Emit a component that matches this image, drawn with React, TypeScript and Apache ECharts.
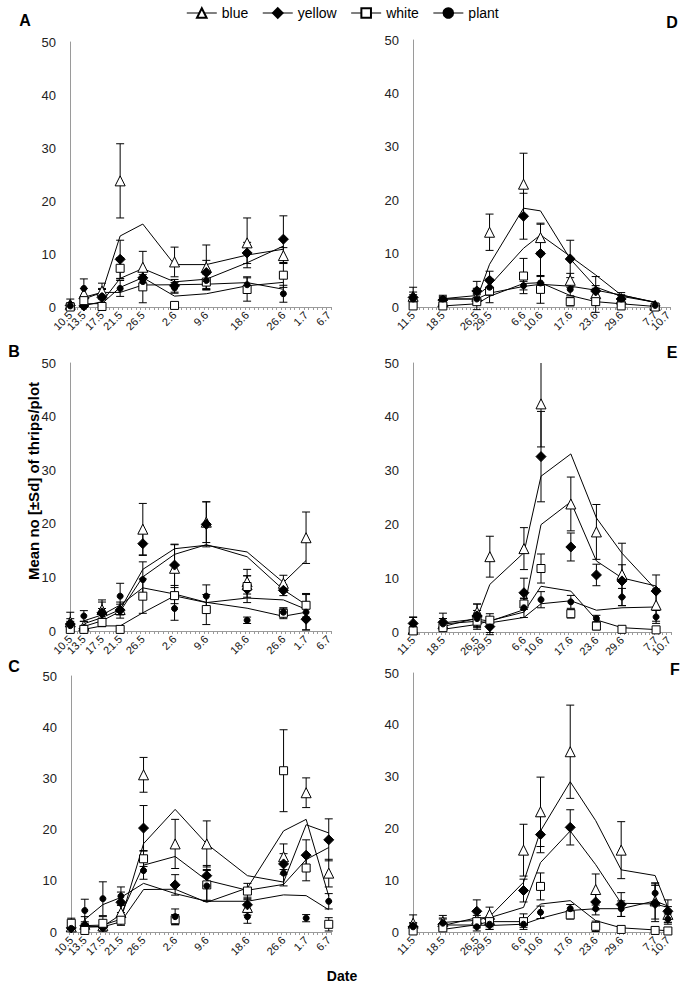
import React, { useEffect, useRef } from "react";
import * as echarts from "echarts";

// ---- x categories (dates) and their day offsets ----
const LEFT_DATES = ["10.5", "13.5", "17.5", "21.5", "26.5", "2.6", "9.6", "18.6", "26.6", "1.7", "6.7"];
const LEFT_DAYS = [0, 3, 7, 11, 16, 23, 30, 39, 47, 52, 57];
const RIGHT_DATES = ["11.5", "18.5", "26.5", "29.5", "6.6", "10.6", "17.6", "23.6", "29.6", "7.7", "10.7"];
const RIGHT_DAYS = [0, 7, 15, 18, 26, 30, 37, 43, 49, 57, 60];
const Y_TICKS = [0, 10, 20, 30, 40, 50];

// ---- Panel A ----
const A_BLUE = [0.5, 2.5, 3, 23.8, 7.5, 8.5, 7.5, 12.1, 9.7];
const A_BLUE_SD = [1, 1, 1.5, 7, 3, 2.8, 4.2, 4.7, 1.5];
const A_YELLOW = [0.3, 0.2, 1.8, 9, 5.5, 4, 6.5, 10.2, 12.8];
const A_YELLOW_SD = [0.5, 0.3, 1.5, 3.6, 1.5, 1.2, 2.3, 2, 4.4];
const A_WHITE = [0, 1.2, 0.1, 7.3, 3.8, 0.3, 4.7, 3.3, 6];
const A_WHITE_SD = [0.3, 0.5, 0.1, 2, 3, 0.2, 1.5, 2.2, 2.3];
const A_PLANT = [0.2, 3.5, 2, 3.5, 4.8, 3.6, 5, 4.2, 2.5];
const A_PLANT_SD = [0.3, 1.8, 1.5, 1.5, 1.3, 1, 1.5, 1.5, 1.6];

// ---- Panel B ----
const B_BLUE = [1.7, 1, 4, 4, 19, 11.7, 20.3, 9.2, 8.9, 17.4];
const B_BLUE_SD = [1.8, 0.8, 1.8, 1, 4.8, 4.5, 3.8, 2.3, 1.5, 4.8];
const B_YELLOW = [1.3, 0.4, 3.4, 3.9, 16.3, 12.3, 19.9, 7.8, 7.6, 2.2];
const B_YELLOW_SD = [1, 0.5, 2, 1.5, 2.2, 3.8, 4.2, 2.5, 1, 2];
const B_WHITE = [0.3, 0.3, 1.6, 0.3, 6.5, 6.6, 4, 8.3, 3.3, 4.8];
const B_WHITE_SD = [0.3, 0.2, 0.8, 0.2, 3.2, 1.5, 2.8, 2, 1, 2.2];
const B_PLANT = [1, 2.8, 3.2, 6.5, 9.6, 4.2, 6.5, 2, 3.5, 3.5];
const B_PLANT_SD = [0.8, 1, 1, 2.4, 3.3, 2.2, 2.1, 0.6, 0.8, 3.3];

// ---- Panel C ----
const C_BLUE = [1, 1.5, 1.2, 3.8, 30.7, 17.2, 17.2, 4.8, 14.7, 27.2, 11.5];
const C_BLUE_SD = [0.8, 1.5, 1, 1.5, 3.4, 4.8, 4.5, 1.5, 2.5, 2.9, 2.7];
const C_YELLOW = [0.8, 1.2, 1, 5.8, 20.3, 9.2, 11, 5.3, 13.3, 15, 18];
const C_YELLOW_SD = [0.5, 0.5, 0.8, 2, 4.4, 2, 2, 1.5, 2, 3, 4.1];
const C_WHITE = [1.7, 0.3, 1.7, 2.3, 14.3, 2.4, 9.2, 8, 31.5, 12.5, 1.5];
const C_WHITE_SD = [1, 0.3, 1.3, 1, 1.5, 1, 3, 1.5, 8, 2.5, 1.3];
const C_PLANT = [0.7, 4.2, 6.5, 7, 12, 3, 9, 3, 11.5, 2.7, 6];
const C_PLANT_SD = [0.5, 2.2, 3.3, 1.8, 1.7, 1.5, 3, 1.3, 2.5, 0.7, 1.5];

// ---- Panel D ----
const D_BLUE = [2, 1, 2, 14, 23, 13, 5, 2.5, 1.5, 0.3];
const D_BLUE_SD = [1.7, 0.8, 1.5, 3.4, 5.8, 2.7, 1.3, 1, 0.8, 0.3];
const D_YELLOW = [1.8, 1.3, 3, 5, 17, 10, 9, 3, 1.5, 0.2];
const D_YELLOW_SD = [1, 0.7, 1.8, 1.7, 4.3, 5.5, 3.5, 2.7, 1.2, 0.3];
const D_WHITE = [0.2, 0.2, 1, 3, 5.8, 3.3, 1, 1, 0.2, 0];
const D_WHITE_SD = [0.2, 0.2, 1.5, 2.2, 3.3, 2.6, 0.8, 2, 0.2, 0.1];
const D_PLANT = [1.5, 1.5, 1.5, 3.7, 4, 4.5, 3.3, 3, 1.5, 0.3];
const D_PLANT_SD = [0.8, 0.7, 0.8, 1.5, 0.8, 1.2, 1.2, 1, 0.6, 0.3];

// ---- Panel E ----
const E_BLUE = [0.5, 1.5, 3.7, 14, 15.5, 42.4, 23.8, 18.6, 10.7, 5];
const E_BLUE_SD = [0.5, 1, 1.5, 3.8, 3.9, 8, 5, 5.1, 5.8, 3];
const E_YELLOW = [1.6, 1.8, 3, 1, 7.3, 32.6, 15.8, 10.6, 9.5, 7.6];
const E_YELLOW_SD = [1.2, 1.7, 2.2, 1.5, 2.7, 8.4, 2.6, 2, 3, 3];
const E_WHITE = [0.2, 0.8, 2, 2.2, 5.2, 11.8, 3.4, 1.1, 0.5, 0.4];
const E_WHITE_SD = [0.2, 0.6, 1.5, 1.2, 1, 2.7, 0.8, 0.7, 0.3, 0.3];
const E_PLANT = [1.5, 1.5, 2.5, 0.9, 4.5, 6, 5.6, 2.5, 6.5, 2.8];
const E_PLANT_SD = [1.2, 1, 1.5, 1, 1.8, 1.5, 1.2, 0.6, 1.6, 1.2];

// ---- Panel F ----
const F_BLUE = [1.7, 2, 2.5, 3.4, 15.8, 23.2, 34.8, 8.2, 15.8, 6, 3.4];
const F_BLUE_SD = [1.6, 1.2, 1.5, 1.4, 5, 6.7, 9, 3, 5.5, 3.5, 1.5];
const F_YELLOW = [1, 1.5, 4, 1.5, 8, 18.8, 20.2, 5.8, 5.3, 5.5, 4];
const F_YELLOW_SD = [0.8, 1, 2.2, 1, 2.2, 3.5, 3.4, 1.5, 2.3, 3.5, 2.2];
const F_WHITE = [0.2, 0.8, 2, 2, 2, 8.8, 3.3, 1.1, 0.5, 0.3, 0.2];
const F_WHITE_SD = [0.2, 0.5, 1.2, 1, 1.5, 2.6, 0.8, 1, 0.2, 0.2, 0.2];
const F_PLANT = [1, 1.7, 1, 1.5, 1.5, 3.8, 4.5, 4.5, 4.5, 7.5, 2.5];
const F_PLANT_SD = [0.7, 1, 0.8, 1, 0.6, 1.2, 0.8, 1.2, 1.5, 1.8, 1];

const TREATMENTS = [
  { name: "blue", symbol: "triangle", size: 10, fill: "#ffffff" },
  { name: "yellow", symbol: "diamond", size: 10, fill: "#000000" },
  { name: "white", symbol: "rect", size: 8, fill: "#ffffff" },
  { name: "plant", symbol: "circle", size: 6, fill: "#000000" },
];

const PANELS = [
  { label: "A", side: "L", grid: { left: 68, top: 42, width: 263, height: 265 }, lab: [25, 20],
    vals: [A_BLUE, A_YELLOW, A_WHITE, A_PLANT], sds: [A_BLUE_SD, A_YELLOW_SD, A_WHITE_SD, A_PLANT_SD] },
  { label: "B", side: "L", grid: { left: 68, top: 363, width: 263, height: 268 }, lab: [14, 351],
    vals: [B_BLUE, B_YELLOW, B_WHITE, B_PLANT], sds: [B_BLUE_SD, B_YELLOW_SD, B_WHITE_SD, B_PLANT_SD] },
  { label: "C", side: "L", grid: { left: 69, top: 676, width: 262, height: 256 }, lab: [14, 666],
    vals: [C_BLUE, C_YELLOW, C_WHITE, C_PLANT], sds: [C_BLUE_SD, C_YELLOW_SD, C_WHITE_SD, C_PLANT_SD] },
  { label: "D", side: "R", grid: { left: 411, top: 40, width: 259, height: 267 }, lab: [672, 22],
    vals: [D_BLUE, D_YELLOW, D_WHITE, D_PLANT], sds: [D_BLUE_SD, D_YELLOW_SD, D_WHITE_SD, D_PLANT_SD] },
  { label: "E", side: "R", grid: { left: 411, top: 363, width: 260, height: 269 }, lab: [672, 352],
    vals: [E_BLUE, E_YELLOW, E_WHITE, E_PLANT], sds: [E_BLUE_SD, E_YELLOW_SD, E_WHITE_SD, E_PLANT_SD] },
  { label: "F", side: "R", grid: { left: 411, top: 673, width: 259, height: 259 }, lab: [675, 669],
    vals: [F_BLUE, F_YELLOW, F_WHITE, F_PLANT], sds: [F_BLUE_SD, F_YELLOW_SD, F_WHITE_SD, F_PLANT_SD] },
];

const FONT = "Liberation Sans, Arial, sans-serif";
const AXIS_GREY = "#9a9a9a";

function movingAvg(days: number[], vals: number[]) {
  return vals.slice(1).map((v, i) => [days[i + 1], (vals[i] + v) / 2]);
}

function buildOption() {
  const grid: any[] = [];
  const xAxis: any[] = [];
  const yAxis: any[] = [];
  const series: any[] = [];
  const graphic: any[] = [];

  PANELS.forEach((p, pi) => {
    const days = p.side === "L" ? LEFT_DAYS : RIGHT_DAYS;
    const dates = p.side === "L" ? LEFT_DATES : RIGHT_DATES;
    const xMax = p.side === "L" ? 57.5 : 60.5;
    const tickVals: number[] = [];
    for (let t = -0.5; t <= xMax + 1e-6; t += 1) tickVals.push(t);
    const fmt = (v: number) => {
      const k = days.indexOf(Math.round(v));
      return k >= 0 ? dates[k] : "";
    };
    const labelBase = {
      rotate: 45,
      fontSize: 11,
      fontFamily: FONT,
      color: "#111",
      margin: 6,
      showMinLabel: true,
      showMaxLabel: true,
      hideOverlap: false,
      formatter: fmt,
    };

    grid.push({ ...p.grid });
    // main x axis: line, daily ticks, labels of even-indexed dates
    xAxis.push({
      type: "value",
      gridIndex: pi,
      position: "bottom",
      min: -0.5,
      max: xMax,
      axisLine: { show: true, onZero: false, lineStyle: { color: AXIS_GREY, width: 1 } },
      axisTick: { show: true, customValues: tickVals, length: 3, lineStyle: { color: AXIS_GREY } },
      axisLabel: { ...labelBase, customValues: days.filter((_, i) => i % 2 === 0) },
      splitLine: { show: false },
    });
    // companion x axis: labels of odd-indexed dates only
    xAxis.push({
      type: "value",
      gridIndex: pi,
      position: "bottom",
      offset: 0,
      min: -0.5,
      max: xMax,
      axisLine: { show: false, onZero: false },
      axisTick: { show: false },
      axisLabel: { ...labelBase, customValues: days.filter((_, i) => i % 2 === 1) },
      splitLine: { show: false },
    });
    yAxis.push({
      type: "value",
      gridIndex: pi,
      min: Y_TICKS[0],
      max: Y_TICKS[Y_TICKS.length - 1],
      interval: 10,
      axisLine: { show: true, lineStyle: { color: AXIS_GREY, width: 1 } },
      axisTick: { show: false },
      axisLabel: { fontSize: 13, fontFamily: FONT, color: "#222", margin: 12 },
      splitLine: { show: false },
    });

    const xi = pi * 2;
    TREATMENTS.forEach((tr, ti) => {
      const vals = p.vals[ti];
      const sds = p.sds[ti];
      // error bars
      series.push({
        type: "custom",
        xAxisIndex: xi,
        yAxisIndex: pi,
        silent: true,
        clip: false,
        z: 2,
        data: vals.map((v, i) => [days[i], v - sds[i], v + sds[i]]),
        renderItem: (params: any, api: any) => {
          const x = api.value(0);
          const lo = api.value(1);
          const hi = api.value(2);
          const top = Math.min(hi, 50);
          const pHi = api.coord([x, top]);
          const pLo = api.coord([x, lo]);
          const w = 4;
          const st = { stroke: "#000", lineWidth: 1 };
          const children: any[] = [
            { type: "line", shape: { x1: pHi[0], y1: pHi[1], x2: pLo[0], y2: pLo[1] }, style: st },
            { type: "line", shape: { x1: pLo[0] - w, y1: pLo[1], x2: pLo[0] + w, y2: pLo[1] }, style: st },
          ];
          if (hi <= 50) {
            children.push({ type: "line", shape: { x1: pHi[0] - w, y1: pHi[1], x2: pHi[0] + w, y2: pHi[1] }, style: st });
          }
          return { type: "group", children };
        },
      });
      // 2-period moving-average trend line
      series.push({
        type: "line",
        xAxisIndex: xi,
        yAxisIndex: pi,
        silent: true,
        symbol: "none",
        z: 3,
        lineStyle: { color: "#000", width: 1 },
        data: movingAvg(days, vals),
      });
      // markers
      series.push({
        type: "line",
        name: tr.name,
        xAxisIndex: xi,
        yAxisIndex: pi,
        symbol: tr.symbol,
        symbolSize: tr.size,
        showSymbol: true,
        z: 4,
        lineStyle: { width: 0, opacity: 0 },
        itemStyle: { color: tr.fill, borderColor: "#000", borderWidth: 1, opacity: 1 },
        data: vals.map((v, i) => [days[i], v]),
      });
    });

    graphic.push({
      type: "text",
      x: p.lab[0],
      y: p.lab[1],
      style: { text: p.label, font: `bold 16px ${FONT}`, fill: "#000", align: "center", verticalAlign: "middle" },
    });
  });

  graphic.push({
    type: "text",
    x: 33,
    y: 481,
    rotation: Math.PI / 2,
    style: {
      text: "Mean no [±Sd] of thrips/plot",
      font: `bold 15px ${FONT}`,
      fill: "#000",
      align: "center",
      verticalAlign: "middle",
    },
  });
  graphic.push({
    type: "text",
    x: 342,
    y: 976,
    style: { text: "Date", font: `bold 14px ${FONT}`, fill: "#000", align: "center", verticalAlign: "middle" },
  });

  return {
    animation: false,
    backgroundColor: "#ffffff",
    legend: {
      data: TREATMENTS.map((t) => t.name),
      top: 1,
      left: "center",
      itemWidth: 30,
      itemHeight: 12,
      itemGap: 14,
      lineStyle: { color: "#000", width: 1, opacity: 1, type: "solid" },
      textStyle: { fontSize: 14, fontFamily: FONT, color: "#000" },
      selectedMode: false,
    },
    grid,
    xAxis,
    yAxis,
    series,
    graphic,
  };
}

export default function App() {
  const ref = useRef<HTMLDivElement>(null);
  useEffect(() => {
    if (!ref.current) return;
    const chart = echarts.init(ref.current, undefined, { renderer: "svg" });
    chart.setOption(buildOption() as any);
    return () => chart.dispose();
  }, []);
  return (
    <div
      ref={ref}
      style={{ position: "absolute", left: 0, top: 0, width: 685, height: 991, background: "#fff" }}
    />
  );
}
